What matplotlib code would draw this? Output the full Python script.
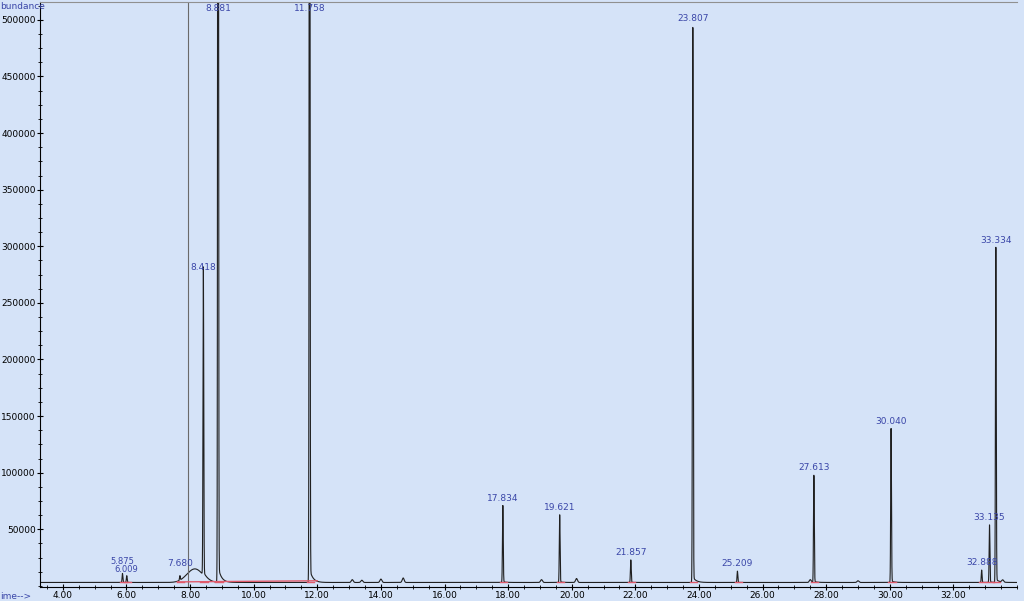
import numpy as np
import matplotlib.pyplot as plt
from matplotlib.ticker import MultipleLocator, AutoMinorLocator

# Peak table: retention time (min), apex abundance, label shown
peak_rt = [5.875, 6.009, 7.680, 8.418, 8.881, 11.758, 17.834, 19.621,
           21.857, 23.807, 25.209, 27.613, 30.040, 32.888, 33.135, 33.334]
peak_height = [8000, 6000, 4000, 272000, 1400000, 1200000, 68000, 60000,
               20000, 492000, 10000, 95000, 136000, 11000, 51000, 296000]
peak_label = ["5.875", "6.009", "7.680", "8.418", "8.881", "11.758", "17.834", "19.621",
              "21.857", "23.807", "25.209", "27.613", "30.040", "32.888", "33.135", "33.334"]

# small unlabeled bumps on the baseline (first one is the broad hump)
bump_rt = [8.15, 13.1, 13.4, 14.0, 14.7, 19.05, 20.15, 27.5, 29.0, 33.55]
bump_height = [12000, 2500, 2000, 3000, 4000, 2500, 3500, 2500, 1500, 2000]

# thin vertical marker line
marker_rt = [7.92]

baseline = 3000

x_ticks = [4, 6, 8, 10, 12, 14, 16, 18, 20, 22, 24, 26, 28, 30, 32]
y_ticks = [50000, 100000, 150000, 200000, 250000, 300000, 350000, 400000, 450000, 500000]

bg = "#D5E3F8"
lab_col = "#3A46A8"

t = np.arange(3.2, 34.1, 0.002)
sig = np.full_like(t, baseline, dtype=float)
for rt, h in zip(peak_rt, peak_height):
    w = 0.012
    g = np.exp(-0.5 * ((t - rt) / w) ** 2)
    sig += h * g
    # tailing
    tail = np.where(t > rt, np.exp(-(t - rt) / 0.1), 0) * (1 - g)
    sig += 0.01 * h * tail
for rt, h in zip(bump_rt, bump_height):
    w = 0.25 if h > 10000 else 0.03
    sig += h * np.exp(-0.5 * ((t - rt) / w) ** 2)

fig = plt.figure(figsize=(10.24, 6.01), dpi=100, facecolor=bg)
ax = fig.add_axes([0.039, 0.0233, 0.9542, 0.9734])
ax.set_facecolor(bg)
ax.plot(t, sig, color="#202020", linewidth=0.8)
for m in marker_rt:
    ax.axvline(m, color="#6A6A6A", linewidth=0.8)

# integration baselines
for rt, lab in zip(peak_rt, peak_label):
    if lab:
        ax.plot([rt - 0.09, rt + 0.14], [baseline, baseline], color="#E05A6A", linewidth=1.0)
ax.plot([7.6, 12.0], [baseline + 500, baseline + 1500], color="#E05A6A", linewidth=1.0)

ymax = 515800
ax.set_xlim(3.28, 34.0)
ax.set_ylim(-1000, ymax)

for rt, h, lab in zip(peak_rt, peak_height, peak_label):
    top = h + baseline
    fs = 6.5
    off = 2500
    if lab == "5.875":
        off, fs = 6500, 6
    elif lab == "6.009":
        off, fs = 1500, 6
    elif lab == "7.680":
        off = 9000
    if top > ymax - 8000:
        ax.text(rt, ymax - 1500, lab, ha="center", va="top", fontsize=fs, color=lab_col)
    else:
        ax.text(rt, top + off, lab, ha="center", va="bottom", fontsize=fs, color=lab_col)

ax.set_xticks(x_ticks)
ax.set_xticklabels([f"{v:.2f}" for v in x_ticks])
ax.set_yticks(y_ticks)
ax.set_yticklabels([str(v) for v in y_ticks])
ax.xaxis.set_minor_locator(MultipleLocator(0.5))
ax.yaxis.set_minor_locator(AutoMinorLocator(4))
ax.tick_params(axis="both", which="major", labelsize=6.5, length=4, direction="inout", pad=1)
ax.tick_params(axis="both", which="minor", length=3, direction="inout")

ax.spines["right"].set_visible(False)
ax.spines["top"].set_color("#909090")
ax.spines["left"].set_color("#000000")
ax.spines["bottom"].set_color("#000000")

fig.text(0.0, 0.997, "bundance", ha="left", va="top", fontsize=6.5, color=lab_col)
fig.text(0.0, 0.0, "ime-->", ha="left", va="bottom", fontsize=6.5, color=lab_col)

fig.savefig("out.png", dpi=100, facecolor=bg)
